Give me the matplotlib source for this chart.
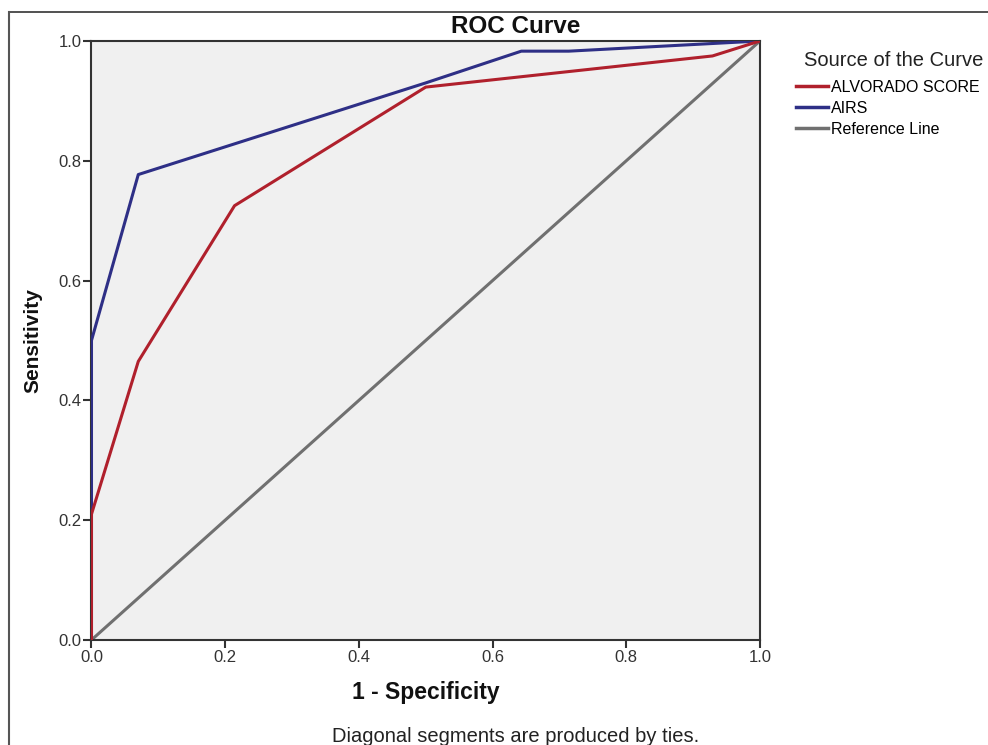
import matplotlib
matplotlib.use("Agg")
import matplotlib.pyplot as plt
from matplotlib.lines import Line2D

plt.rcParams['font.family'] = ['Liberation Sans', 'DejaVu Sans']

# ROC points (1 - specificity, sensitivity)
alv_fpr = [0.0, 0.0, 0.07, 0.214, 0.5, 0.929, 1.0]
alv_tpr = [0.0, 0.21, 0.465, 0.725, 0.923, 0.975, 1.0]
airs_fpr = [0.0, 0.0, 0.07, 0.5, 0.643, 0.714, 1.0]
airs_tpr = [0.0, 0.5, 0.777, 0.93, 0.983, 0.983, 1.0]
ref_xy = [0.0, 1.0]

labels = ['ALVORADO SCORE', 'AIRS', 'Reference Line']
colors = ['#b0202c', '#2e2f86', '#707070']
ticks = [0.0, 0.2, 0.4, 0.6, 0.8, 1.0]

fig = plt.figure(figsize=(9.88, 7.45), dpi=100)
ax = fig.add_axes([0.0926, 0.141, 0.6766, 0.804])
ax.set_facecolor('#f0f0f0')

ax.plot(ref_xy, ref_xy, color=colors[2], lw=2.2, label=labels[2], zorder=2)
ax.plot(airs_fpr, airs_tpr, color=colors[1], lw=2.2, label=labels[1], zorder=3)
ax.plot(alv_fpr, alv_tpr, color=colors[0], lw=2.2, label=labels[0], zorder=4)

ax.set_xlim(0, 1)
ax.set_ylim(0, 1)
ax.set_xticks(ticks)
ax.set_yticks(ticks)
ax.set_xticklabels(['%.1f' % t for t in ticks])
ax.set_yticklabels(['%.1f' % t for t in ticks])
ax.tick_params(length=6, width=1.5, color='#333333', labelsize=12,
               labelcolor='#333333', pad=1)
for s in ax.spines.values():
    s.set_color('#333333')
    s.set_linewidth(1.5)

ax.set_xlabel('1 - Specificity', fontsize=16.5, fontweight='bold',
              labelpad=12, color='#111111')
ax.set_ylabel('Sensitivity', fontsize=15, fontweight='bold',
              labelpad=12, color='#111111')

# title and footnote are centred over the whole chart, as SPSS does
fig.text(0.522, 0.965, 'ROC Curve', ha='center', va='center',
         fontsize=17.5, fontweight='bold', color='#111111')
fig.text(0.522, 0.024, 'Diagonal segments are produced by ties.',
         ha='center', va='top', fontsize=14.5, color='#222222')

# legend in SPSS style, title placed on its own
fig.text(0.814, 0.919, 'Source of the Curve', ha='left', va='center',
         fontsize=14.5, color='#222222')
handles = [Line2D([], [], color=c, lw=2.5) for c in colors]
leg = fig.legend(handles, labels, loc='upper left',
                 bbox_to_anchor=(0.806, 0.893), frameon=False,
                 fontsize=11.5, handlelength=2.0, handletextpad=0.15,
                 labelspacing=0.38, borderaxespad=0, borderpad=0)

# outer frame (top and left edges visible)
fig.add_artist(Line2D([0.009, 1.0], [0.984, 0.984], color='#333333', lw=1.2))
fig.add_artist(Line2D([0.009, 0.009], [0.0, 0.984], color='#555555', lw=1.5))

fig.savefig('out.png', dpi=100)
